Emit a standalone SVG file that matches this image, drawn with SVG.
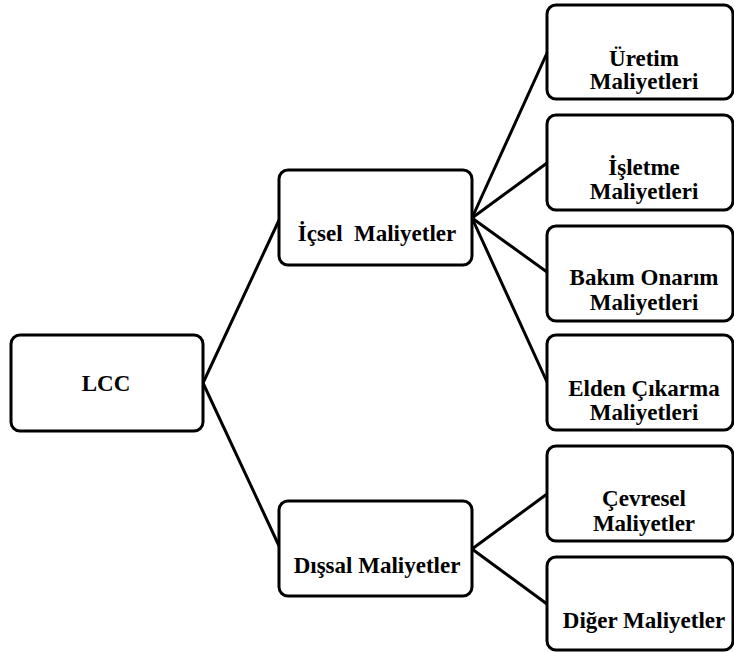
<svg xmlns="http://www.w3.org/2000/svg" width="734" height="652" viewBox="0 0 734 652">
<style>
.box{fill:#fff;stroke:#000;stroke-width:3}
.t{font-family:'Liberation Serif','Times New Roman',serif;font-weight:bold;font-size:23px;fill:#000;text-anchor:middle}
.c{stroke:#000;stroke-width:3;fill:none;stroke-linecap:round}
</style>
<rect width="734" height="652" fill="#fff"/>
<g id="connectors">
<line class="c" x1="203" y1="383" x2="280" y2="218"/>
<line class="c" x1="203" y1="383" x2="280" y2="548"/>
<line class="c" x1="472" y1="218" x2="547" y2="53"/>
<line class="c" x1="472" y1="218" x2="547" y2="163"/>
<line class="c" x1="472" y1="218" x2="547" y2="272"/>
<line class="c" x1="472" y1="218" x2="547" y2="382"/>
<line class="c" x1="472" y1="549" x2="547" y2="494"/>
<line class="c" x1="472" y1="549" x2="547" y2="604"/>
</g>
<g id="lcc"><rect class="box" x="11" y="335" width="192" height="96" rx="9"/><text class="t" x="106" y="391">LCC</text></g>
<g id="icsel"><rect class="box" x="279" y="170" width="193" height="95" rx="9"/><text class="t" x="377" y="241" xml:space="preserve">İçsel  Maliyetler</text></g>
<g id="dissal"><rect class="box" x="279" y="501" width="193" height="95" rx="9"/><text class="t" x="377" y="573">Dışsal Maliyetler</text></g>
<g id="uretim"><rect class="box" x="547" y="5" width="186" height="94" rx="9"/><text class="t" x="644" y="66">Üretim</text><text class="t" x="644" y="89">Maliyetleri</text></g>
<g id="isletme"><rect class="box" x="547" y="115" width="186" height="95" rx="9"/><text class="t" x="644" y="175">İşletme</text><text class="t" x="644" y="199">Maliyetleri</text></g>
<g id="bakim"><rect class="box" x="547" y="226" width="186" height="95" rx="9"/><text class="t" x="644" y="285">Bakım Onarım</text><text class="t" x="644" y="310">Maliyetleri</text></g>
<g id="elden"><rect class="box" x="547" y="335" width="186" height="95" rx="9"/><text class="t" x="644" y="396">Elden Çıkarma</text><text class="t" x="644" y="420">Maliyetleri</text></g>
<g id="cevresel"><rect class="box" x="547" y="446" width="186" height="95" rx="9"/><text class="t" x="644" y="506">Çevresel</text><text class="t" x="644" y="531">Maliyetler</text></g>
<g id="diger"><rect class="box" x="547" y="557" width="186" height="93" rx="9"/><text class="t" x="644" y="628">Diğer Maliyetler</text></g>
</svg>
